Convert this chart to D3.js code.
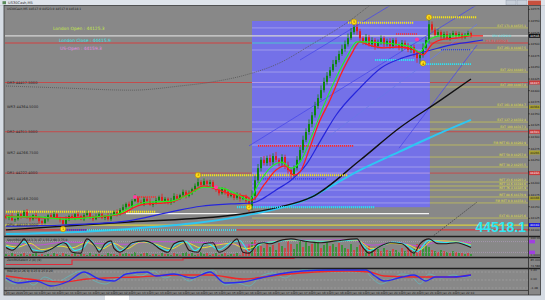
<!DOCTYPE html>
<html><head><meta charset="utf-8">
<script src="https://cdn.jsdelivr.net/npm/d3@7"></script>
<style>html,body{margin:0;padding:0;background:#888;overflow:hidden}svg{display:block}</style>
</head><body>
<svg id="c" width="545" height="300"></svg>
<script>
// ---------------- DATA ----------------
const symbolTitle = "US30Cash,M5";
const infoLine = "US30Cash,M5  44517.0 44523.0 44517.0 44518.1";
const closes = [44126,44130,44121,44123,44134,44130,44139,44128,44123,44132,
44126,44119,44115,44123,44132,44128,44134,44126,44121,44113,
44123,44130,44126,44134,44130,44123,44132,44136,44128,44123,
44130,44134,44126,44130,44123,44132,44139,44134,44143,44149,
44156,44151,44162,44169,44160,44156,44167,44162,44154,44158,
44164,44171,44162,44167,44158,44164,44173,44167,44175,44182,
44173,44179,44188,44195,44203,44197,44205,44199,44203,44192,
44186,44179,44188,44182,44173,44177,44169,44175,44167,44171,
44162,44151,44173,44207,44233,44251,44244,44255,44246,44259,
44251,44244,44257,44240,44229,44220,44233,44251,44272,44294,
44311,44328,44347,44367,44384,44401,44419,44432,44444,44457,
44466,44479,44490,44500,44513,44526,44537,44528,44513,44505,
44515,44500,44509,44496,44505,44513,44500,44507,44496,44509,
44500,44492,44503,44496,44488,44494,44481,44470,44477,44492,
44509,44543,44531,44520,44526,44515,44522,44513,44520,44524,
44518,44522,44515,44520,44524,44518.1];
const wickHi = [4,3,6,2,5,3,4,6,3,2,5,4,3,6,2,4,5,3,2,4,
6,3,4,2,5,3,4,6,2,3, 5,4,3,2,6,4,3,5,4,6, 3,5,4,8,3,5,4,3,6,4,
5,3,7,4,3,5,6,4,3,5, 4,6,3,5,8,4,6,3,5,4, 3,6,4,3,5,4,3,6,4,3,
5,8,12,10,9,6,8,5,7,6, 9,4,6,5,7,5,6,8,7,9, 8,10,7,9,8,10,9,8,7,9,
8,7,9,8,10,9,12,6,5,4, 7,5,6,4,5,6,4,5,6,4, 5,4,6,5,7,4,5,6,8,10,
6,15,6,5,6,4,5,6,4,5, 4,5,3,4,5,3];
const wickLo = [3,5,2,4,3,6,2,4,5,3,2,6,4,3,5,2,4,3,5,7,
3,4,2,5,3,2,4,3,5,4, 2,4,3,5,3,4,2,5,3,4, 5,3,4,2,6,3,5,4,2,5,
3,4,2,5,3,4,6,3,2,4, 5,3,4,6,2,5,3,4,6,3, 4,5,3,6,4,3,5,4,6,3,
4,12,8,9,6,7,5,6,8,6, 5,7,6,9,8,10,6,5,4,6, 5,6,7,5,6,4,5,6,5,4,
6,5,4,6,5,4,5,8,9,6, 7,5,6,8,5,6,7,5,6,5, 6,5,7,6,5,7,8,10,12,6,
5,8,6,5,4,6,5,4,5,4, 5,4,5,4,3,4];
const timeLabelBars = [0,6,12,18,24,30,36,42,48,54,60,66,72,78,84,90,96,102,108,114,120,126,132,138,144,150];
const timeLabels = ["23 Jan 2020","23 Jan 10:10","23 Jan 10:40","23 Jan 11:10","23 Jan 11:40","23 Jan 12:10","23 Jan 12:40","23 Jan 13:10","23 Jan 13:40","23 Jan 14:10","23 Jan 14:40","23 Jan 15:10","23 Jan 15:40","23 Jan 16:10","23 Jan 16:40","23 Jan 17:10","23 Jan 17:40","23 Jan 18:10","23 Jan 18:40","23 Jan 19:10","23 Jan 19:40","23 Jan 20:10","23 Jan 20:40","23 Jan 21:10","23 Jan 21:40","23 Jan 22:10"];
const priceTicks = [44575,44550,44525,44500,44475,44450,44425,44400,44375,44350,44325,44300,44275,44250,44225,44200,44175,44150,44125,44100];
const pivotNames = ["DR3","WR3","DR2","WR2","DR1","WR1","DPV:"];
const pivotValues = [44417.5,44364.5,44311.5,44266.75,44222.4,44168.2,44110.5];
const sessionTexts = ["London Open : 44125.3","London Close : 44415.9","US-Open : 44159.3"];
const sessionColors = ["#c6e84a","#3fe3e6","#e88ae8"];
const fibNames = ["EXT 171.8","EXT 261.8","EXT 224","EXT 200","EXT 161.8","EXT 127.2","EXT 100","FIB RET 61.8","RET 50.0","RET 38.2","RET 23.6","RET 14.6","RET 76.4","RET 88.6","FIB RET 0.0","EXT 61.8"];
const fibValues = [44535.1,44487.5,44440.1,44407.8,44364.7,44332.4,44317.3,44282.9,44257.0,44235.5,44203.2,44194.6,44185.9,44170.9,44158.1,44125.6];
const currentPrice = 44518.1;
const h1R1 = 44502.6;
const dayLow = 44100;
const usSession = {startBar:82, endBar:141.3, high:44550, low:44149};
const greenMA = [[0,44128],[10,44128],[20,44123],[30,44128],[38,44136],[42,44151],[48,44160],[55,44162],[60,44173],[66,44192],[72,44190],[78,44173],[81,44164],[84,44197],[88,44233],[92,44246],[95,44233],[98,44246],[102,44304],[106,44369],[110,44427],[114,44477],[117,44505],[120,44505],[125,44503],[130,44500],[135,44494],[138,44483],[141,44509],[145,44518],[150,44518],[155,44520]];
const redMA = [[0,44130],[15,44126],[30,44128],[38,44134],[45,44154],[55,44160],[62,44182],[66,44195],[70,44188],[75,44177],[80,44173],[82,44164],[86,44197],[90,44229],[93,44238],[96,44218],[98,44225],[101,44272],[104,44326],[108,44380],[112,44440],[115,44477],[118,44505],[121,44498],[126,44492],[131,44494],[136,44488],[139,44477],[142,44500],[146,44511],[150,44513],[155,44518],[159,44518]];
const blueMA = [[0,44108],[20,44111],[40,44119],[55,44139],[65,44151],[75,44156],[82,44158],[86,44169],[90,44186],[95,44207],[100,44240],[105,44294],[110,44347],[118,44406],[125,44449],[132,44470],[138,44481],[142,44488],[148,44498],[155,44505],[159,44509]];
const blackMA = [[0,44100],[41,44117],[76,44132],[91,44149],[102,44171],[118,44250],[131,44319],[145,44380],[155,44425]];
const cyanMA = [[0,44091],[41,44102],[82,44134],[98,44160],[118,44229],[131,44268],[141,44298],[155,44337]];
const grayDotMA = [[0,44410],[18,44406],[42,44401],[58,44410],[69,44419],[80,44434],[91,44459],[102,44500],[114,44548],[121,44582],[125,44600]];
const channelLines = [[81,44281,157,44585],[98,44466,131,44595],[131,44276,157,44498],[95,44240,157,44543]];
const dottedTrend = [142,44085,157,44160];
// level segments: [startBar, endBar, price, color, width]
const levelSegs = [[64,114,44218,"#f2e21a",2],[114,136,44546,"#f2e21a",2],[141,157,44558,"#f2e21a",2],[0,50,44139,"#f2e21a",2],
[84,116,44281,"#ff2a2a",1.6],[43,50,44171,"#ff2a2a",1.4],[130,137,44522,"#ff2a2a",1.4],
[123,136,44466,"#30e0f0",1.8],[138,155,44457,"#30e0f0",1.8],[145,155,44488,"#3040e0",1.4],[85,107,44210,"#3040e0",1.4],
[19,27,44100,"#3040e0",1.6],[27,77,44100,"#30e0f0",2],[77,123,44149,"#30d8f0",2.4]];
const whiteSeg = [40,141,44135];
const yellowMarks = [[64,44218,"3"],[116,44548,"5"],[141,44558,"5"],[19,44102,"1"],[81,44149,"2"],[139,44459,"4"]];
const pinkMarks = [[43,44171],[70,44192],[137,44510]];
// indicator panels
const stochK = [[0,47],[2,32],[5,74],[6,95],[8,47],[9,21],[12,21],[15,37],[17,58],[19,74],[20,68],[22,21],[25,16],[26,68],[27,95],[30,47],[31,21],[33,68],[35,84],[36,42],[38,21],[40,42],[42,74],[46,84],[49,68],[51,42],[54,21],[56,68],[59,84],[61,32],[64,21],[66,68],[69,74],[71,21],[74,47],[76,84],[77,95],[79,21],[81,16],[84,68],[86,74],[88,68],[91,84],[95,95],[99,84],[105,74],[110,84],[117,95],[119,47],[121,16],[124,47],[128,74],[132,68],[136,16],[138,68],[141,95],[144,68],[146,68],[150,74],[155,47]];
const stochD = [[0,55],[3,40],[6,80],[9,35],[13,25],[17,55],[20,75],[23,30],[26,50],[28,88],[31,35],[35,78],[38,30],[42,70],[46,82],[50,60],[54,30],[57,70],[60,80],[63,30],[67,70],[71,35],[75,75],[78,85],[81,25],[85,70],[90,80],[95,90],[100,85],[110,82],[117,90],[121,30],[125,55],[129,78],[133,65],[137,25],[141,88],[146,75],[150,78],[155,55]];
const stochY = [[0,60],[4,50],[8,70],[12,35],[18,55],[22,45],[27,75],[32,40],[36,70],[40,40],[45,78],[50,65],[55,40],[60,75],[65,45],[70,60],[75,70],[80,40],[86,72],[95,88],[105,82],[117,88],[122,40],[128,70],[134,62],[138,35],[142,85],[150,80],[155,60]];
const stochM = [[0,75],[10,60],[20,78],[30,70],[40,65],[50,80],[60,78],[70,72],[80,60],[90,85],[100,88],[115,90],[122,60],[130,75],[138,55],[145,82],[155,75]];
const histo = [2,-1,3,-2,1,2,-3,1,-2,2, 3,-1,-2,1,2,-1,3,-2,1,-3, 2,1,-2,3,-1,2,-2,1,3,-1, 2,-2,1,-1,3,2,-2,1,-3,2,
3,-2,2,4,-1,2,-3,3,1,-2, 2,-1,3,-2,2,1,-3,2,-1,3, 4,-2,3,1,-2,4,2,-3,1,-2, 3,-1,2,-3,1,2,-2,3,-1,-4,
-6,-12,14,-16,12,-10,8,-14,9,-11, 6,-13,10,-8,-15,-12,7,12,15,-9, 14,10,-12,13,15,-8,11,14,-10,12, 9,-13,11,8,-7,12,-6,9,-11,-14,
8,-10,6,-9,7,-5,8,-6,5,-7, 6,4,-8,5,-9,-6,7,-12,-10,8, 12,9,-6,5,-4,6,-5,4,-3,5, -4,3,-3,2,-3,2];
const zeroRsi = [[0,25],[22,70],[59,85],[96,95],[155,95]];
const macdMain = [[0,10],[4,-15],[10,-5],[15,-30],[21,-5],[26,40],[31,5],[36,-5],[40,30],[47,40],[50,20],[56,30],[62,10],[68,40],[73,-15],[79,-10],[85,10],[91,30],[99,45],[108,50],[120,50],[123,20],[126,-5],[132,15],[136,25],[140,-5],[143,15],[149,15],[155,25]];
const macdSignal = [[0,20],[10,0],[19,-10],[27,5],[33,10],[44,15],[56,25],[68,25],[79,5],[91,25],[103,40],[114,45],[121,40],[126,20],[137,15],[149,15],[155,25]];
const macdFast = [[0,0],[3,-20],[6,10],[9,-25],[13,15],[17,-10],[21,20],[25,45],[29,0],[33,-20],[37,10],[41,35],[45,20],[49,45],[53,10],[57,30],[61,-5],[65,30],[69,50],[73,-25],[77,-15],[81,-30],[85,20],[89,35],[93,10],[97,45],[101,55],[106,50],[110,55],[115,45],[119,55],[122,10],[125,-20],[128,0],[132,30],[135,20],[138,-20],[141,30],[145,10],[149,25],[153,15],[155,20]];
const panelTitles = ["StochRSI(14,14,3,3)  47.1  55.2  60.3  75.0","ZeroRSISelect 2 (8) (9)","MACD(12,26,9)  0.25  0.25  0.20"];

// ---------------- DRAW ----------------
const svg = d3.select("#c");
const F = "DejaVu Sans, sans-serif";
const x = d3.scaleLinear().domain([0,155]).range([6,471]);
const y = d3.scaleLinear().domain([44086.9,44582.3]).range([236,6]);
const yS = d3.scaleLinear().domain([0,100]).range([256,238]);
const yZ = d3.scaleLinear().domain([0,100]).range([267,257]);
const yM = d3.scaleLinear().domain([-50,60]).range([290,268]);

svg.append("rect").attr("width",545).attr("height",300).attr("fill","#888888");
const defs = svg.append("defs");
function clip(id,x0,y0,w,h){defs.append("clipPath").attr("id",id).append("rect").attr("x",x0).attr("y",y0).attr("width",w).attr("height",h);}
clip("cm",5,6.5,523,229.5); clip("c2",5,237,523,19.5); clip("c3",5,258,523,10); clip("c4",5,269,523,21);

const gm = svg.append("g").attr("clip-path","url(#cm)");
const bx0 = x(usSession.startBar), bx1 = x(usSession.endBar);
const by0 = y(usSession.high), by1 = y(usSession.low);
const inBox = v => y(v)>=by0 && y(v)<=by1;
function hline(v,col,w,inCol,xa,xb){
  xa = xa===undefined?5:xa; xb = xb===undefined?528:xb;
  if(inBox(v) && inCol){
    if(xa<bx0) gm.append("line").attr("x1",xa).attr("x2",bx0).attr("y1",y(v)).attr("y2",y(v)).attr("stroke",col).attr("stroke-width",w);
    gm.append("line").attr("x1",Math.max(xa,bx0)).attr("x2",Math.min(xb,bx1)).attr("y1",y(v)).attr("y2",y(v)).attr("stroke",inCol).attr("stroke-width",w);
    if(xb>bx1) gm.append("line").attr("x1",bx1).attr("x2",xb).attr("y1",y(v)).attr("y2",y(v)).attr("stroke",col).attr("stroke-width",w);
  } else {
    gm.append("line").attr("x1",xa).attr("x2",xb).attr("y1",y(v)).attr("y2",y(v)).attr("stroke",col).attr("stroke-width",w);
  }
}
// session box
gm.append("rect").attr("x",bx0).attr("y",by0).attr("width",bx1-bx0).attr("height",by1-by0).attr("fill","#7471e8");
// fib lines
fibValues.forEach(v=>hline(v,"#c4c258",0.8,"#a9a7ec",bx0,528));
// pivot DR lines
pivotNames.forEach((n,i)=>{ if(n.startsWith("DR")) hline(pivotValues[i],"#c94545",0.9,"#b79ee6"); });
hline(h1R1,"#d24040",1,"#4cc4cc");
hline(currentPrice,"#d6d6d6",1.2);
hline(pivotValues[6],"#d8d040",1.2);
hline(dayLow,"#d83838",1.2);
gm.append("line").attr("x1",x(whiteSeg[0])).attr("x2",x(whiteSeg[1])).attr("y1",y(whiteSeg[2])).attr("y2",y(whiteSeg[2])).attr("stroke","#f4f4f4").attr("stroke-width",1.2);

const line = d3.line().x(d=>x(d[0])).y(d=>y(d[1])).curve(d3.curveMonotoneX);
gm.append("path").attr("d",line(grayDotMA)).attr("fill","none").attr("stroke","#555").attr("stroke-width",0.8).attr("stroke-dasharray","1,1");
channelLines.forEach((c,i)=>{
  gm.append("line").attr("x1",x(c[0])).attr("y1",y(c[1])).attr("x2",x(c[2])).attr("y2",y(c[3])).attr("stroke",i===3?"#6a78e6":"#4a4ae8").attr("stroke-width",0.8);
});
gm.append("line").attr("x1",x(dottedTrend[0])).attr("y1",y(dottedTrend[1])).attr("x2",x(dottedTrend[2])).attr("y2",y(dottedTrend[3])).attr("stroke","#444").attr("stroke-width",0.8).attr("stroke-dasharray","1.5,1");
gm.append("path").attr("d",line(cyanMA)).attr("fill","none").attr("stroke","#2ec6f2").attr("stroke-width",2);
gm.append("path").attr("d",line(blackMA)).attr("fill","none").attr("stroke","#111").attr("stroke-width",1.4);

levelSegs.forEach(s=>{
  gm.append("line").attr("x1",x(s[0])).attr("x2",x(s[1])).attr("y1",y(s[2])).attr("y2",y(s[2])).attr("stroke",s[3]).attr("stroke-width",s[4]).attr("stroke-dasharray","1.2,0.8");
});

// candles
const candles = closes.map((c,i)=>{const o=i===0?closes[0]+4:closes[i-1];return {i,o,c,h:Math.max(o,c)+wickHi[i],l:Math.min(o,c)-wickLo[i]};});
const cg = gm.append("g");
candles.forEach(d=>{
  const col = d.c>=d.o?"#0c860c":"#e41c1c";
  cg.append("line").attr("x1",x(d.i)).attr("x2",x(d.i)).attr("y1",y(d.h)).attr("y2",y(d.l)).attr("stroke",col).attr("stroke-width",0.8);
  const top=y(Math.max(d.o,d.c)), bot=y(Math.min(d.o,d.c));
  cg.append("rect").attr("x",x(d.i)-1).attr("y",top).attr("width",2).attr("height",Math.max(0.8,bot-top)).attr("fill",col);
});
gm.append("path").attr("d",line(blueMA)).attr("fill","none").attr("stroke","#2626dc").attr("stroke-width",1.2);
gm.append("path").attr("d",line(redMA)).attr("fill","none").attr("stroke","#ff1e1e").attr("stroke-width",1.3);
gm.append("path").attr("d",line(greenMA)).attr("fill","none").attr("stroke","#22f022").attr("stroke-width",1.1);

yellowMarks.forEach(m=>{
  gm.append("circle").attr("cx",x(m[0])).attr("cy",y(m[1])).attr("r",2.8).attr("fill","#ffe01a").attr("stroke","#a07000").attr("stroke-width",0.5);
  gm.append("text").attr("x",x(m[0])).attr("y",y(m[1])+1.3).attr("text-anchor","middle").attr("font-family",F).attr("font-size",3.5).attr("fill","#7a4a00").text(m[2]);
});
pinkMarks.forEach(m=>{
  gm.append("circle").attr("cx",x(m[0])).attr("cy",y(m[1])).attr("r",2).attr("fill","#ff3aa0");
});

// texts main
sessionTexts.forEach((t,i)=>{
  svg.append("text").attr("x",[53,59,60][i]).attr("y",[30,41.5,49.5][i]).attr("font-family",F).attr("font-size",4.4).attr("fill",sessionColors[i]).text(t);
});
pivotNames.forEach((n,i)=>{
  const yy = y(pivotValues[i]);
  svg.append("text").attr("x",7).attr("y",yy+1.3).attr("font-family",F).attr("font-size",3.6).attr("fill","#2a2a2a").text(n+"  "+pivotValues[i].toFixed(4));
});
fibNames.forEach((n,i)=>{
  svg.append("text").attr("x",526).attr("y",y(fibValues[i])-0.6).attr("text-anchor","end").attr("font-family",F).attr("font-size",3).attr("fill","#e6e23a").text(n+" "+fibValues[i].toFixed(1));
});
svg.append("text").attr("x",508).attr("y",y(h1R1)-0.6).attr("text-anchor","end").attr("font-family",F).attr("font-size",3).attr("fill","#ff3a3a").text("H1-R1 "+h1R1.toFixed(1));
svg.append("text").attr("x",511).attr("y",y(currentPrice)+1).attr("text-anchor","end").attr("font-family",F).attr("font-size",3).attr("fill","#3fe0e6").text("SPV "+(44520).toFixed(1));
svg.append("text").attr("x",526).attr("y",232).attr("text-anchor","end").attr("font-family","Liberation Sans, Arial, sans-serif").attr("font-weight","bold").attr("font-size",14).attr("fill","#2ee8f4").text(currentPrice.toFixed(1));
svg.append("text").attr("x",7).attr("y",10).attr("font-family",F).attr("font-size",3).attr("fill","#1a1a1a").text(infoLine);

// panel 2: stochastic + histogram
const g2 = svg.append("g").attr("clip-path","url(#c2)");
histo.forEach((v,i)=>{
  g2.append("rect").attr("x",x(i)-0.7).attr("y",256-Math.abs(v)).attr("width",1.4).attr("height",Math.abs(v)).attr("fill",v>=0?"#1c9a1c":"#e83030");
});
[80,20].forEach(v=>g2.append("line").attr("x1",5).attr("x2",528).attr("y1",yS(v)).attr("y2",yS(v)).attr("stroke","#b9a0c8").attr("stroke-width",0.6).attr("stroke-dasharray","1,1"));
const ls = d3.line().x(d=>x(d[0])).y(d=>yS(d[1])).curve(d3.curveMonotoneX);
[[stochM,"#c050d8",1],[stochY,"#e8e030",1],[stochD,"#30e8f0",1.1],[stochK,"#2a1a1a",1.1]].forEach(s=>{
  g2.append("path").attr("d",ls(s[0])).attr("fill","none").attr("stroke",s[1]).attr("stroke-width",s[2]);
});
// panel 3
const g3 = svg.append("g").attr("clip-path","url(#c3)");
g3.append("path").attr("d",d3.line().x(d=>x(d[0])).y(d=>yZ(d[1])).curve(d3.curveStepAfter)(zeroRsi)).attr("fill","none").attr("stroke","#e02a3a").attr("stroke-width",1.2);
// panel 4
const g4 = svg.append("g").attr("clip-path","url(#c4)");
[40,0,-40].forEach(v=>g4.append("line").attr("x1",5).attr("x2",528).attr("y1",yM(v)).attr("y2",yM(v)).attr("stroke","#aaaaaa").attr("stroke-width",0.6).attr("stroke-dasharray","2,1.5"));
const lm = d3.line().x(d=>x(d[0])).y(d=>yM(d[1])).curve(d3.curveMonotoneX);
g4.append("path").attr("d",lm(macdFast)).attr("fill","none").attr("stroke","#4fd0d8").attr("stroke-width",0.5);
g4.append("path").attr("d",lm(macdSignal)).attr("fill","none").attr("stroke","#f02828").attr("stroke-width",1.3);
g4.append("path").attr("d",lm(macdMain)).attr("fill","none").attr("stroke","#2a2af0").attr("stroke-width",1.3);

panelTitles.forEach((t,i)=>{
  svg.append("text").attr("x",7).attr("y",[240.5,261,272][i]).attr("font-family",F).attr("font-size",3).attr("fill","#1a1a1a").text(t);
});

// separators and frame
[236.5,257.5,268.5].forEach(v=>svg.append("line").attr("x1",4).attr("x2",540).attr("y1",v).attr("y2",v).attr("stroke","#1e1e1e").attr("stroke-width",1.4));
svg.append("line").attr("x1",4).attr("x2",528).attr("y1",290.5).attr("y2",290.5).attr("stroke","#333").attr("stroke-width",0.8);
svg.append("line").attr("x1",528.5).attr("x2",528.5).attr("y1",6).attr("y2",295).attr("stroke","#2a2a2a").attr("stroke-width",0.8);

// price axis
priceTicks.forEach(p=>{
  const yy=y(p);
  svg.append("line").attr("x1",528).attr("x2",530).attr("y1",yy).attr("y2",yy).attr("stroke","#222").attr("stroke-width",0.6);
  svg.append("text").attr("x",530.5).attr("y",yy+1).attr("font-family",F).attr("font-size",2.9).attr("fill","#1a1a1a").text(p.toFixed(1));
});
function axisBox(p,fill,txt,col){
  svg.append("rect").attr("x",529).attr("y",y(p)-2).attr("width",11).attr("height",4).attr("fill",fill);
  svg.append("text").attr("x",530).attr("y",y(p)+1).attr("font-family",F).attr("font-size",2.9).attr("fill",col).text(txt);
}
pivotNames.forEach((n,i)=>{
  const v=pivotValues[i];
  if(n.startsWith("DR")) axisBox(v,"#c83a3a",v.toFixed(1),"#fff");
  else if(n.startsWith("WR")) axisBox(v,"#a8a030",v.toFixed(1),"#222");
  else axisBox(v,"#1a1ae0",v.toFixed(1),"#fff");
});
axisBox(currentPrice,"#111",currentPrice.toFixed(1),"#fff");
[[80,"#a040e0"],[20,"#a040e0"]].forEach(d=>svg.append("rect").attr("x",529).attr("y",yS(d[0])-1.8).attr("width",6).attr("height",3.6).attr("fill",d[1]));
[["100.0000",239],["0.0000",255.5],["85.0000",260.5],["74.5867",266.5],["1.20",271],["0.00",280],["-1.48",289]].forEach(d=>{
  svg.append("text").attr("x",530.5).attr("y",d[1]).attr("font-family",F).attr("font-size",2.8).attr("fill","#1a1a1a").text(d[0]);
});
// time axis
timeLabelBars.forEach((b,i)=>{
  svg.append("line").attr("x1",x(b)).attr("x2",x(b)).attr("y1",290.5).attr("y2",292).attr("stroke","#222").attr("stroke-width",0.5);
  svg.append("text").attr("x",x(b)).attr("y",293.6).attr("font-family",F).attr("font-size",2.9).attr("fill","#1a1a1a").text(timeLabels[i]);
});

// window frame
svg.append("rect").attr("x",0).attr("y",0).attr("width",545).attr("height",5.5).attr("fill","#dfe4eb");
svg.append("text").attr("x",8).attr("y",4.3).attr("font-family",F).attr("font-size",3.6).attr("fill","#333").text(symbolTitle);
svg.append("rect").attr("x",2.5).attr("y",1.2).attr("width",3.5).attr("height",3).attr("fill","#5a8a5a");
[[506,"#c8d0da"],[517,"#c8d0da"]].forEach(d=>svg.append("rect").attr("x",d[0]).attr("y",0.5).attr("width",10).attr("height",4.5).attr("fill",d[1]).attr("stroke","#8a96a6").attr("stroke-width",0.4));
svg.append("rect").attr("x",528).attr("y",0.5).attr("width",13).attr("height",4.5).attr("fill","#c8503e");
svg.append("rect").attr("x",0).attr("y",5.5).attr("width",4).attr("height",295).attr("fill","#d6dce4");
svg.append("rect").attr("x",540.5).attr("y",5.5).attr("width",4.5).attr("height",295).attr("fill","#d6dce4");
svg.append("rect").attr("x",0).attr("y",295).attr("width",545).attr("height",5).attr("fill","#d6dce4");
svg.append("rect").attr("x",105).attr("y",295).attr("width",24).attr("height",5).attr("fill","#ffffff");
svg.append("rect").attr("x",4).attr("y",5.5).attr("width",536.5).attr("height",289.5).attr("fill","none").attr("stroke","#3a3a3a").attr("stroke-width",0.8);
</script>
</body></html>
